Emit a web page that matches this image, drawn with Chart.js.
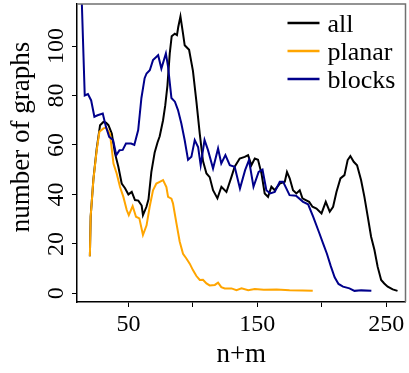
<!DOCTYPE html>
<html>
<head>
<meta charset="utf-8">
<script src="https://cdn.jsdelivr.net/npm/chart.js@4.4.1/dist/chart.umd.min.js"></script>
<style>
    body { margin: 0; background: #fff; }
    canvas { display: block; }
</style>
</head>
<body>
<canvas id="graphsChart" width="409" height="373"></canvas>
<script>
    // values: n+m on x, number of graphs on y
    var allX = [20, 20.6, 22.7, 25.3, 27.9, 30.5, 32.5, 34.4, 37, 39.5, 42.1, 44.7, 47.3, 49.9, 52.5, 55, 57.6, 60.2, 61.2, 63.9,
        65.5, 67.7, 70.3, 72.5, 74.2, 76.8, 78.5, 80.2, 82, 83.5, 85.9, 87.6, 88.6, 90.3, 92.3, 93.6, 97, 100, 102.7, 105.3,
        107.8, 110.5, 113, 115.6, 119, 122.1, 126, 129.9, 132.4, 136.3, 140.2, 142.8, 145.4, 148, 150.5, 153.2, 155.7, 158.3, 160.9, 163.5,
        167.4, 171.3, 173, 175.1, 177.7, 180.3, 182.9, 185, 187.6, 190.2, 192.8, 195.9, 199.8, 203.1, 206.2, 208.8, 211.4, 214.5, 217.6, 220.1,
        222.2, 224.8, 227.4, 230.5, 233.1, 235.7, 238.3, 240.9, 243.4, 246.1, 248.5, 251.2, 255.1, 258.8];
    var allY = [15, 31, 46, 58.5, 68, 69.3, 69, 68, 64.6, 56.6, 51.2, 44.4, 42.5, 40, 41, 37.7, 37.5, 35.5, 31.6, 35,
        38, 49, 57, 61, 63.5, 70, 76, 84, 97, 104, 105, 104.4, 107.7, 112, 105, 100.3, 98.5, 90, 77.5, 64.5,
        53.5, 48.5, 47, 41.7, 38.4, 43.1, 41, 47.1, 51.2, 54.5, 55.2, 55.9, 51.8, 54.5, 54, 48.5, 40.4, 39, 43.1, 41.7,
        44.4, 45.1, 49.1, 46.5, 41.7, 40.4, 41.7, 38.4, 37.7, 37, 35, 34.3, 32.3, 37, 33, 35, 41, 46.5, 47.8, 53.9,
        55.5, 53.2, 51.8, 45.8, 39, 31, 22.9, 17.5, 10.7, 5.4, 4, 2.7, 1.6, 1];

    var planarX = [20, 20.6, 22.7, 25.3, 27.4, 30.5, 32.5, 35.6, 38.3, 40.8, 43.4, 46, 48.6, 50.2, 53.2, 55.8, 58.4, 61.2, 64, 66.4,
        69, 71.6, 74.2, 76.8, 79.4, 80.7, 83.3, 84.5, 87.2, 89.7, 92.3, 94.9, 97.5, 100, 102.7, 105.3, 107.8, 110.5, 113, 117,
        119.5, 122, 124.7, 129.9, 133.8, 137.7, 142.9, 148, 155, 165, 175, 185, 193];
    var planarY = [15, 31, 45.8, 57.9, 65.3, 66.7, 67, 64.6, 52.5, 48.5, 43, 39, 33.7, 31.6, 35.3, 31, 30.3, 23.6, 27.5, 35,
        41.7, 44.4, 45.1, 45.8, 43, 39, 38.3, 36.4, 28.3, 21, 16, 14.1, 12, 9.4, 7, 5.4, 5.5, 4, 3.2, 3.4,
        4.3, 2.5, 2, 2, 1.3, 2, 1.3, 1.8, 1.5, 1.6, 1.3, 1.2, 1];

    var blocksX = [13, 16, 18.5, 21, 23.5, 26, 30, 32.5, 35, 38, 40.5, 43, 45.5, 48, 52, 54.5, 57.5, 60, 62.5, 64,
        66.5, 69, 71.5, 73, 75.5, 79, 80.7, 83.3, 86, 88.4, 91, 93.6, 96.2, 98.8, 101.4, 104, 106, 109, 111.7, 115.6,
        119.5, 122, 125.2, 128.6, 132.4, 136.5, 140.5, 143.5, 147, 151, 154, 157, 160, 163.5, 167.4, 170, 175, 180, 185.5, 189.4,
        193.3, 198, 201, 204, 207, 210, 213, 216.5, 221.5, 225.4, 230.6, 238.5];
    var blocksY = [130, 80, 80.6, 78, 71.4, 72, 72.7, 67.3, 63.3, 62, 55.9, 57.9, 58, 60.6, 60.6, 60, 66, 79, 87, 88.9,
        90.2, 94.3, 95.6, 96.3, 90.9, 97, 91.6, 79, 77.5, 74.1, 68.7, 61.9, 54, 55.2, 62, 59.2, 51.8, 62, 57.9, 50.5,
        58.6, 52.5, 55.9, 51.8, 51.2, 42.4, 49.8, 53.9, 43.1, 49.1, 50, 41.7, 40.4, 41, 45.1, 45.1, 39.7, 39.5, 37, 36,
        31, 24.5, 20.2, 16, 11, 6.5, 3.8, 2.7, 2, 1, 1.2, 1];

    var seriesNames = ['all', 'planar', 'blocks'];
    var seriesColors = ['#000000', '#ffa500', '#00008b'];
    var xTicks = [50, 100, 150, 200, 250];
    var xTickLabels = [50, 150, 250];
    var yTicks = [0, 20, 40, 60, 80, 100];

    function toPoints(xs, ys) {
        return xs.map(function(x, i) { return { x: x, y: ys[i] }; });
    }

    var serif = '"Liberation Serif", "DejaVu Serif", serif';
    Chart.defaults.font.family = serif;
    Chart.defaults.color = '#000';

    // rotated y labels, y title, frame and legend are drawn by hand
    var decor = {
        id: 'decor',
        afterDraw: function(chart) {
            var ctx = chart.ctx;
            var area = chart.chartArea;
            var ys = chart.scales.y;

            ctx.save();
            ctx.strokeStyle = '#707070';
            ctx.lineWidth = 1.5;
            ctx.beginPath();
            ctx.moveTo(area.left, area.top);
            ctx.lineTo(area.right, area.top);
            ctx.lineTo(area.right, area.bottom);
            ctx.stroke();

            ctx.fillStyle = '#000';
            ctx.textAlign = 'center';
            ctx.textBaseline = 'alphabetic';
            ctx.font = '24px ' + serif;
            yTicks.forEach(function(v) {
                ctx.save();
                ctx.translate(area.left - 14, ys.getPixelForValue(v));
                ctx.rotate(-Math.PI / 2);
                ctx.fillText(String(v), 0, 0);
                ctx.restore();
            });

            ctx.font = '27px ' + serif;
            ctx.save();
            ctx.translate(29, 137);
            ctx.rotate(-Math.PI / 2);
            ctx.fillText('number of graphs', 0, 0);
            ctx.restore();

            ctx.font = '26px ' + serif;
            ctx.textAlign = 'left';
            seriesNames.forEach(function(name, i) {
                var y = area.top + 19 + i * 28;
                ctx.strokeStyle = seriesColors[i];
                ctx.lineWidth = 2.5;
                ctx.beginPath();
                ctx.moveTo(area.right - 118, y);
                ctx.lineTo(area.right - 86, y);
                ctx.stroke();
                ctx.fillText(name, area.right - 78, y + 9);
            });
            ctx.restore();
        }
    };

    var ctx = document.getElementById('graphsChart').getContext('2d');
    var graphsChart = new Chart(ctx, {
        type: 'line',
        data: {
            datasets: [{
                label: seriesNames[0],
                data: toPoints(allX, allY),
                borderColor: seriesColors[0],
                order: 3
            }, {
                label: seriesNames[1],
                data: toPoints(planarX, planarY),
                borderColor: seriesColors[1],
                order: 2
            }, {
                label: seriesNames[2],
                data: toPoints(blocksX, blocksY),
                borderColor: seriesColors[2],
                order: 1
            }]
        },
        options: {
            responsive: false,
            animation: false,
            layout: { padding: { top: 4, right: 3.5, left: 0, bottom: 0 } },
            elements: {
                point: { radius: 0 },
                line: { borderWidth: 2, tension: 0 }
            },
            plugins: {
                legend: { display: false },
                tooltip: { enabled: false }
            },
            scales: {
                x: {
                    type: 'linear',
                    min: 10,
                    max: 265,
                    afterBuildTicks: function(scale) {
                        scale.ticks = xTicks.map(function(v) { return { value: v }; });
                    },
                    afterFit: function(scale) { scale.height = 71; },
                    ticks: {
                        autoSkip: false,
                        maxRotation: 0,
                        padding: 3,
                        font: { size: 24 },
                        callback: function(v) { return xTickLabels.indexOf(v) >= 0 ? String(v) : ''; }
                    },
                    grid: { drawOnChartArea: false, tickLength: 5, color: '#000' },
                    border: { color: '#000', width: 1.5 },
                    title: { display: true, text: 'n+m', font: { size: 27 }, padding: { top: 0, bottom: 2 } }
                },
                y: {
                    type: 'linear',
                    min: -3.5,
                    max: 117,
                    afterBuildTicks: function(scale) {
                        scale.ticks = yTicks.map(function(v) { return { value: v }; });
                    },
                    afterFit: function(scale) { scale.width = 77; },
                    ticks: { display: false },
                    grid: { drawOnChartArea: false, tickLength: 5, color: '#000' },
                    border: { color: '#000', width: 1.5 }
                }
            }
        },
        plugins: [decor]
    });
</script>
</body>
</html>
